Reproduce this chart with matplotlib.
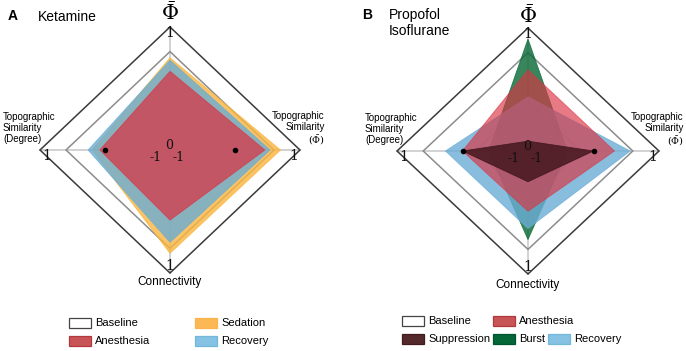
import matplotlib
matplotlib.use('Agg')
import matplotlib.pyplot as plt
from matplotlib.patches import Polygon, Rectangle
import numpy as np

plt.rcParams['font.family'] = ['Liberation Sans', 'DejaVu Sans']
plt.rcParams['mathtext.fontset'] = 'dejavuserif'

# ---------------- data ----------------
v_min, v_max = -1.0, 1.0
# axis order: top, right, bottom, left
axis_labels = [r'$\bar{\Phi}$',
               'Topographic\nSimilarity\n' + r'$(\bar{\Phi})$',
               'Connectivity',
               'Topographic\nSimilarity\n(Degree)']
grid_levels = [-0.6, -0.2]
zero_marks = [0.0, 0.0]   # topographic similarity zero markers (right, left)

ket_title = 'Ketamine'
ket_labels = ['Baseline', 'Anesthesia', 'Sedation', 'Recovery']
ket_baseline = [0.60, 0.60, 0.60, 0.60]
ket_sedation = [0.50, 0.70, 0.68, 0.20]
ket_recovery = [0.46, 0.54, 0.50, 0.26]
ket_anesthesia = [0.28, 0.46, 0.14, 0.08]

pi_title = 'Propofol\nIsoflurane'
pi_labels = ['Baseline', 'Anesthesia', 'Suppression', 'Burst', 'Recovery']
pi_baseline = [0.60, 0.60, 0.60, 0.60]
pi_burst = [0.82, -0.40, 0.44, -0.40]
pi_recovery = [-0.12, 0.56, 0.26, 0.26]
pi_anesthesia = [0.32, 0.32, -0.02, 0.00]
pi_suppression = [-0.84, 0.00, -0.50, 0.00]

# ---------------- style ----------------
C_RED = (0.86, 0.20, 0.26)
C_ORANGE = (0.98, 0.71, 0.24)
C_BLUE = (0.42, 0.68, 0.84)
C_GREEN = (0.05, 0.42, 0.22)
C_SUPP = (0.25, 0.08, 0.10)

DIRS = np.array([[0, 1], [1, 0], [0, -1], [-1, 0]], dtype=float)


def to_xy(vals):
    r = (np.asarray(vals, dtype=float) - v_min) / (v_max - v_min)
    return DIRS * r[:, None]


W, H = 686, 351
fig = plt.figure(figsize=(W / 100, H / 100), dpi=100)


def make_ax(cx, cy, sx, sy):
    xl, yl = 1.3, 1.2
    left = cx - xl * sx
    top = cy - yl * sy
    ax = fig.add_axes([left / W, 1 - (top + 2 * yl * sy) / H, 2 * xl * sx / W, 2 * yl * sy / H])
    ax.set_xlim(-xl, xl)
    ax.set_ylim(-yl, yl)
    ax.axis('off')
    ax.patch.set_alpha(0)
    return ax


def draw_frame(ax, baseline):
    for d in DIRS:
        ax.plot([0, d[0]], [0, d[1]], color='#cfcfcf', lw=1.3, zorder=1)
    for g in grid_levels:
        p = to_xy([g] * 4)
        ax.add_patch(Polygon(p, closed=True, fill=False, ec='#9a9a9a', lw=0.7, zorder=1))
    ax.add_patch(Polygon(to_xy([v_max] * 4), closed=True, fill=False, ec='#3a3a3a', lw=1.1, zorder=1))
    ax.add_patch(Polygon(to_xy(baseline), closed=True, fill=False, ec='#8c8c8c', lw=1.1, zorder=2))


def draw_labels(ax, left_x, right_x, conn_y, phi_y):
    sf = dict(family='DejaVu Serif', fontsize=10, ha='center', va='center', color='#111111')
    cf = dict(family='DejaVu Serif', fontsize=9, ha='center', va='center', color='#111111', zorder=10)
    ax.text(0, phi_y, axis_labels[0], fontsize=15, ha='center', va='center', clip_on=False)
    ax.text(right_x, 0.17, axis_labels[1], fontsize=7, ha='right', va='center',
            multialignment='right', linespacing=1.1, clip_on=False)
    ax.text(0, conn_y, axis_labels[2], fontsize=8.5, ha='center', va='center', clip_on=False)
    ax.text(left_x, 0.18, axis_labels[3], fontsize=7, ha='left', va='center',
            multialignment='left', linespacing=1.1, clip_on=False)
    ax.text(0, 0.955, '1', **sf)
    ax.text(-0.95, -0.045, '1', **sf)
    ax.text(0.95, -0.045, '1', **sf)
    ax.text(0, -0.945, '1', **sf)
    ax.text(-0.11, -0.065, '-1', **cf)
    ax.text(-0.01, 0.035, '0', **cf)
    ax.text(0.065, -0.065, '-1', **cf)
    pr = to_xy([v_min, zero_marks[0], v_min, zero_marks[1]])
    ax.plot([pr[1, 0], pr[3, 0]], [pr[1, 1], pr[3, 1]], 'o', color='black', ms=3, zorder=9)


def fill(ax, vals, color, alpha, z):
    ax.add_patch(Polygon(to_xy(vals), closed=True, fc=color, ec=color, lw=0.6, alpha=alpha, zorder=z))


# ---- Panel A ----
axA = make_ax(170, 150, 130, 123)
draw_frame(axA, ket_baseline)
fill(axA, ket_sedation, C_ORANGE, 0.8, 3)
fill(axA, ket_recovery, C_BLUE, 0.8, 4)
fill(axA, ket_anesthesia, C_RED, 0.72, 5)
draw_labels(axA, -1.285, 1.19, -1.07, 1.12)

# ---- Panel B ----
axB = make_ax(528, 151, 131, 123)
draw_frame(axB, pi_baseline)
fill(axB, pi_burst, C_GREEN, 0.82, 3)
fill(axB, pi_recovery, C_BLUE, 0.8, 4)
fill(axB, pi_anesthesia, C_RED, 0.65, 5)
fill(axB, pi_suppression, C_SUPP, 0.82, 6)
draw_labels(axB, -1.245, 1.19, -1.09, 1.1)


# ---- titles ----
def ftext(x, y, s, **kw):
    fig.text(x / W, 1 - y / H, s, **kw)


ftext(8, 16, 'A', fontsize=10, fontweight='bold', va='center', ha='left')
ftext(38, 17, ket_title, fontsize=10, va='center', ha='left')
ftext(362, 15, 'B', fontsize=10, fontweight='bold', va='center', ha='left')
ftext(389, 23, pi_title, fontsize=10, va='center', ha='left', linespacing=1.1)


# ---- legends ----
def legend_item(x, y, label, fc, ec):
    fig.add_artist(Rectangle((x / W, 1 - (y + 10) / H), 22 / W, 10 / H, transform=fig.transFigure,
                             fc=fc, ec=ec, lw=0.9))
    ftext(x + 26, y + 5.5, label, fontsize=8, va='center', ha='left')


leg_fc = {'Baseline': 'white', 'Anesthesia': (0.78, 0.33, 0.34), 'Sedation': (0.99, 0.72, 0.33),
          'Recovery': (0.52, 0.76, 0.89), 'Suppression': (0.33, 0.16, 0.17), 'Burst': (0.02, 0.40, 0.22)}
leg_ec = {'Baseline': '#444444', 'Anesthesia': (0.70, 0.22, 0.24), 'Sedation': (0.98, 0.70, 0.30),
          'Recovery': (0.45, 0.72, 0.86), 'Suppression': (0.25, 0.10, 0.11), 'Burst': (0.0, 0.33, 0.18)}

posA = [(69, 318), (69, 336), (195, 318), (195, 336)]
for lab, (x, y) in zip(ket_labels, posA):
    legend_item(x, y, lab, leg_fc[lab], leg_ec[lab])

posB = [(402, 316), (493, 316), (402, 334), (493, 334), (548, 334)]
for lab, (x, y) in zip(pi_labels, posB):
    legend_item(x, y, lab, leg_fc[lab], leg_ec[lab])

fig.savefig('out.png', dpi=100)
